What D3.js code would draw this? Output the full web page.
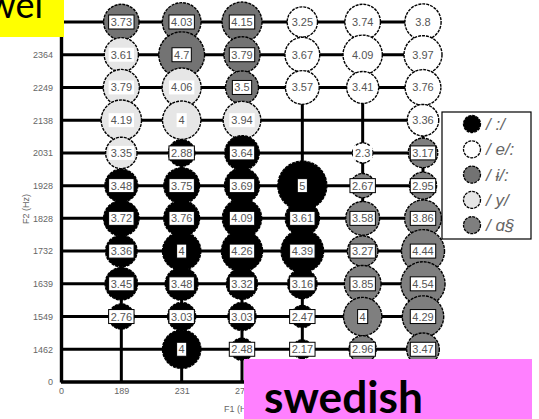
<!DOCTYPE html>
<html><head><meta charset="utf-8">
<script src="https://cdn.jsdelivr.net/npm/d3@7"></script>
<style>body{margin:0;background:#fff}svg{display:block}</style>
</head><body><svg id="c" width="539" height="419"></svg>
<script>
// F2 rows (top to bottom) and F1 columns
const f2Labels = ["2479","2364","2249","2138","2031","1928","1828","1732","1639","1549","1462","0"];
const f1Labels = ["0","189","231","277","322","374","434"];
// tick labels that are hidden under the overlay boxes in the reference
const hiddenTicks = ["2479","322","374","434"];
const vowelNames = ["/  :/", "/ e/:", "/ ɨ/:", "/ y/", "/ ɑ§"];
const vowelColors = ["#000000", "#ffffff", "#737373", "#e6e6e6", "#7f7f7f"];

// [F1, F2, value]
const vowelBlack = [
  ["189","1928",3.48],["189","1828",3.72],["189","1732",3.36],["189","1639",3.45],["189","1549",2.76],
  ["231","2031",2.88],["231","1928",3.75],["231","1828",3.76],["231","1732",4],["231","1639",3.48],["231","1549",3.03],["231","1462",4],
  ["277","2031",3.64],["277","1928",3.69],["277","1828",4.09],["277","1732",4.26],["277","1639",3.32],["277","1549",3.03],["277","1462",2.48],
  ["322","1928",5],["322","1828",3.61],["322","1732",4.39],["322","1639",3.16],["322","1549",2.47],["322","1462",2.17]
];
const vowelWhite = [
  ["322","2479",3.25],["322","2364",3.67],["322","2249",3.57],
  ["374","2479",3.74],["374","2364",4.09],["374","2249",3.41],["374","2031",2.3],
  ["434","2479",3.8],["434","2364",3.97],["434","2249",3.76],["434","2138",3.36]
];
const vowelDark = [
  ["189","2479",3.73],
  ["231","2479",4.03],["231","2364",4.7],
  ["277","2479",4.15],["277","2364",3.79],["277","2249",3.5]
];
const vowelLight = [
  ["189","2364",3.61],["189","2249",3.79],["189","2138",4.19],["189","2031",3.35],
  ["231","2249",4.06],["231","2138",4],
  ["277","2138",3.94]
];
const vowelGray = [
  ["374","1928",2.67],["374","1828",3.58],["374","1732",3.27],["374","1639",3.85],["374","1549",4],["374","1462",2.96],
  ["434","2031",3.17],["434","1928",2.95],["434","1828",3.86],["434","1732",4.44],["434","1639",4.54],["434","1549",4.29],["434","1462",3.47]
];
const seriesList = [vowelBlack, vowelWhite, vowelDark, vowelLight, vowelGray];

const svg = d3.select("#c");
const x = d3.scalePoint().domain(f1Labels).range([61, 423]);
const y = d3.scalePoint().domain(f2Labels).range([22, 382]);
const r = d3.scaleLinear().domain([2, 5]).range([8.5, 24.5]);

// grid
const g = svg.append("g");
g.selectAll("line.h").data(f2Labels.filter(d => d !== "0")).join("line")
  .attr("x1", x("0")).attr("x2", x(f1Labels[f1Labels.length-1]))
  .attr("y1", d => y(d)).attr("y2", d => y(d))
  .attr("stroke", "#000").attr("stroke-width", 3);
g.selectAll("line.v").data(f1Labels.filter(d => d !== "0")).join("line")
  .attr("x1", d => x(d)).attr("x2", d => x(d))
  .attr("y1", y(f2Labels[0])).attr("y2", y("0"))
  .attr("stroke", "#000").attr("stroke-width", 3);

// axes
const yAxis = svg.append("g").attr("transform", `translate(${x("0")},0)`)
  .call(d3.axisLeft(y).tickSize(0).tickSizeOuter(0).tickPadding(8));
const xAxis = svg.append("g").attr("transform", `translate(0,${y("0")})`)
  .call(d3.axisBottom(x).tickSize(0).tickSizeOuter(0).tickPadding(6));
[yAxis, xAxis].forEach(a => {
  a.select(".domain").attr("stroke", "#000").attr("stroke-width", 3.4);
  a.selectAll("text").attr("font-family", "Liberation Sans, Arial, sans-serif")
    .attr("font-size", 9).attr("fill", "#666");
  a.selectAll(".tick").filter(d => hiddenTicks.includes(d)).select("text").remove();
});
xAxis.select(".domain").attr("d", `M${x("0")},0H${x("434") + 20}`);

svg.append("text").attr("transform", "translate(29,209) rotate(-90)")
  .attr("text-anchor", "middle").attr("font-family", "Liberation Sans, Arial, sans-serif")
  .attr("font-size", 9).attr("fill", "#666").text("F2 (Hz)");
svg.append("text").attr("x", 224).attr("y", 412)
  .attr("font-family", "Liberation Sans, Arial, sans-serif")
  .attr("font-size", 9).attr("fill", "#666").text("F1 (Hz)");

// bubbles
const pts = [];
seriesList.forEach((s, si) => s.forEach(d => pts.push({f1: d[0], f2: d[1], v: d[2], s: si})));
pts.sort((a, b) => (f2Labels.indexOf(a.f2) - f2Labels.indexOf(b.f2)) || (f1Labels.indexOf(a.f1) - f1Labels.indexOf(b.f1)));

svg.append("g").selectAll("circle").data(pts).join("circle")
  .attr("cx", d => x(d.f1)).attr("cy", d => y(d.f2)).attr("r", d => r(d.v))
  .attr("fill", d => vowelColors[d.s])
  .attr("stroke", "#000").attr("stroke-width", 1.4).attr("stroke-dasharray", "3,1");

const lg = svg.append("g").selectAll("g").data(pts).join("g")
  .attr("transform", d => `translate(${x(d.f1)},${y(d.f2)})`);
lg.each(function(d) {
  const el = d3.select(this);
  const rect = el.append("rect");
  const t = el.append("text").attr("text-anchor", "middle").attr("dy", "0.36em")
    .attr("font-family", "Liberation Sans, Arial, sans-serif").attr("font-size", 11)
    .attr("fill", "#555").text(d.v);
  const w = t.node().getComputedTextLength() + 4;
  const boxed = d.s === 0 || d.s === 2 || d.s === 4;
  rect.attr("x", -w/2).attr("y", -7).attr("width", w).attr("height", 14)
    .attr("fill", "#fff").attr("stroke", boxed ? "#000" : "none").attr("stroke-width", 1);
});

// legend
const leg = svg.append("g");
leg.append("rect").attr("x", 442).attr("y", 112).attr("width", 89).attr("height", 127)
  .attr("fill", "#fff").attr("stroke", "#000").attr("stroke-width", 1.2);
const li = leg.selectAll("g").data(vowelNames).join("g")
  .attr("transform", (d, i) => `translate(472,${124 + i * 25.3})`);
li.append("circle").attr("r", 8.5).attr("fill", (d, i) => vowelColors[i])
  .attr("stroke", "#000").attr("stroke-width", 1.3).attr("stroke-dasharray", "3,1");
li.append("text").attr("x", 14).attr("dy", "0.35em")
  .attr("font-family", "Liberation Sans, Arial, sans-serif").attr("font-size", 17)
  .attr("font-style", "italic").attr("fill", "#666").text(d => d);

// overlay boxes
svg.append("rect").attr("x", 0).attr("y", 0).attr("width", 64).attr("height", 37).attr("fill", "#ffff00");
svg.append("text").attr("x", 43).attr("y", 18).attr("text-anchor", "end")
  .attr("font-family", "Lato, Open Sans, sans-serif").attr("font-size", 36)
  .attr("fill", "#000").text("vowel");
svg.append("rect").attr("x", 244).attr("y", 359).attr("width", 288).attr("height", 60).attr("fill", "#ff80ff");
svg.append("text").attr("x", 264).attr("y", 413)
  .attr("font-family", "Lato, Open Sans, sans-serif").attr("font-weight", "bold").attr("font-size", 43)
  .attr("textLength", 159).attr("lengthAdjust", "spacingAndGlyphs")
  .attr("fill", "#000").text("swedish");
</script></body></html>
